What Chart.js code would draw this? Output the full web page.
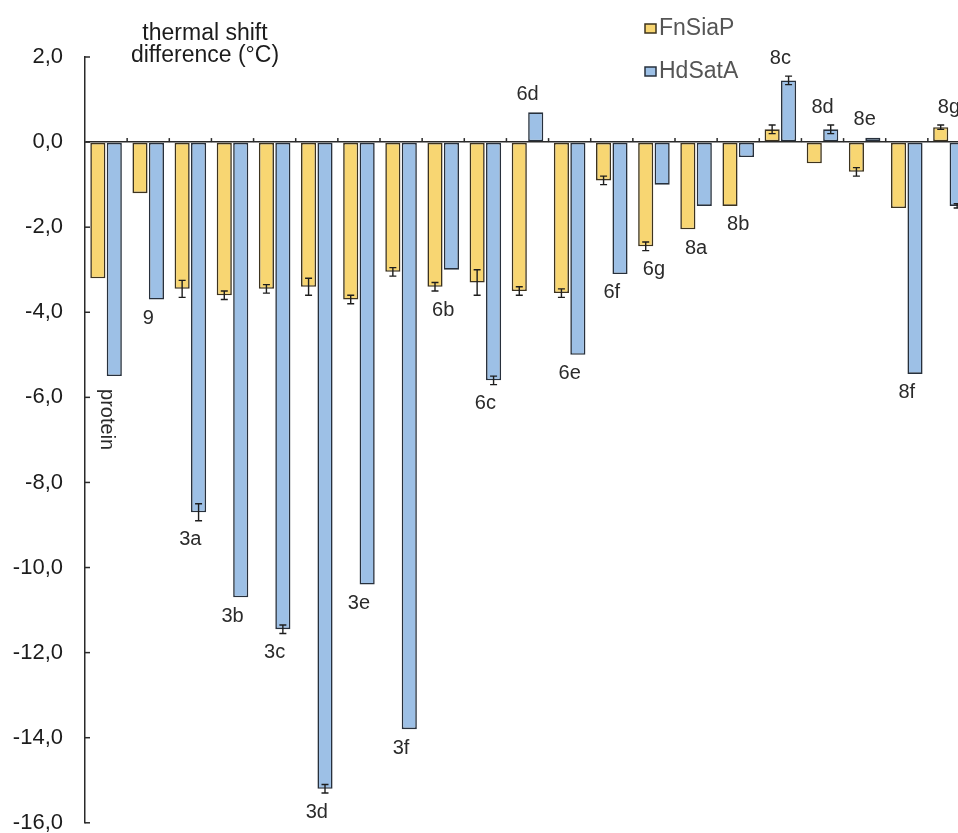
<!DOCTYPE html>
<html>
<head>
<meta charset="utf-8">
<title>Thermal shift difference</title>
<script src="https://cdn.jsdelivr.net/npm/chart.js@4/dist/chart.umd.min.js"></script>
<style>
  html, body { margin: 0; padding: 0; background: #ffffff; overflow: hidden; }
  #chart { position: absolute; left: 0; top: 0; }
</style>
</head>
<body>
<canvas id="chart" width="986" height="858"></canvas>
<script>
// Compounds tested (x categories)
const categories = ['protein', '9', '3a', '3b', '3c', '3d', '3e', '3f', '6b', '6c', '6d',
                    '6e', '6f', '6g', '8a', '8b', '8c', '8d', '8e', '8f', '8g'];

// Thermal shift difference (°C) and standard deviations per protein
const fnSiaP    = [-3.2, -1.2, -3.45, -3.6, -3.45, -3.4, -3.7, -3.05, -3.4, -3.3, -3.5,
                   -3.55, -0.9, -2.45, -2.05, -1.5, 0.3, -0.5, -0.7, -1.55, 0.35];
const fnSiaPErr = [0, 0, 0.2, 0.1, 0.1, 0.2, 0.1, 0.1, 0.1, 0.3, 0.1,
                   0.1, 0.1, 0.1, 0, 0, 0.1, 0, 0.1, 0, 0.05];
const hdSatA    = [-5.5, -3.7, -8.7, -10.7, -11.45, -15.2, -10.4, -13.8, -3.0, -5.6, 0.7,
                   -5.0, -3.1, -1.0, -1.5, -0.35, 1.45, 0.3, 0.1, -5.45, -1.5];
const hdSatAErr = [0, 0, 0.2, 0, 0.1, 0.1, 0, 0, 0, 0.1, 0,
                   0, 0, 0, 0, 0, 0.1, 0.1, 0, 0, 0.05];

// Value axis
const yMin = -16, yMax = 2, yStep = 2;

// Heading
const titleLines = ['thermal shift', 'difference (°C)'];

const FONT = "'Liberation Sans', Arial, Helvetica, sans-serif";
const INK = '#1c1c1c';

const errors = [fnSiaPErr, hdSatAErr];

const overlay = {
  id: 'overlay',
  afterDatasetsDraw(chart) {
    const ctx = chart.ctx;
    const xs = chart.scales.x, ys = chart.scales.y;
    const area = chart.chartArea;
    const y0 = ys.getPixelForValue(0);

    ctx.save();
    // error bars
    ctx.strokeStyle = '#1e1e1e';
    ctx.lineWidth = 1.4;
    chart.data.datasets.forEach((ds, d) => {
      const meta = chart.getDatasetMeta(d);
      meta.data.forEach((bar, i) => {
        const e = errors[d][i];
        if (!e) return;
        const v = ds.data[i];
        const yt = ys.getPixelForValue(v + e);
        const yb = ys.getPixelForValue(v - e);
        ctx.beginPath();
        ctx.moveTo(bar.x, yt); ctx.lineTo(bar.x, yb);
        ctx.moveTo(bar.x - 3.5, yt); ctx.lineTo(bar.x + 3.5, yt);
        ctx.moveTo(bar.x - 3.5, yb); ctx.lineTo(bar.x + 3.5, yb);
        ctx.stroke();
      });
    });

    // small marks on the zero line between categories
    ctx.strokeStyle = '#2a2a2a';
    ctx.lineWidth = 1.5;
    for (let i = 1; i < categories.length; i++) {
      const xb = (xs.getPixelForValue(i - 1) + xs.getPixelForValue(i)) / 2;
      ctx.beginPath();
      ctx.moveTo(xb, y0); ctx.lineTo(xb, y0 - 4);
      ctx.stroke();
    }

    // inward tick marks on the value axis
    ys.ticks.forEach(t => {
      const py = ys.getPixelForValue(t.value);
      ctx.beginPath();
      ctx.moveTo(area.left, py); ctx.lineTo(area.left + 5, py);
      ctx.stroke();
    });

    // compound labels next to each bar pair
    ctx.fillStyle = '#2b2b2b';
    ctx.font = '20px ' + FONT;
    ctx.textAlign = 'center';
    ctx.textBaseline = 'middle';
    categories.forEach((name, i) => {
      const cx = xs.getPixelForValue(i);
      const hi = Math.max(fnSiaP[i] + fnSiaPErr[i], hdSatA[i] + hdSatAErr[i]);
      const lo = Math.min(fnSiaP[i] - fnSiaPErr[i], hdSatA[i] - hdSatAErr[i]);
      if (i === 0) {
        // the protein label runs downward
        ctx.save();
        ctx.translate(cx, ys.getPixelForValue(lo) + 13);
        ctx.rotate(Math.PI / 2);
        ctx.textAlign = 'left';
        ctx.fillText(name, 0, 0);
        ctx.restore();
      } else if (hi > 0) {
        ctx.fillText(name, cx, ys.getPixelForValue(hi) - 18);
      } else {
        ctx.fillText(name, cx, ys.getPixelForValue(lo) + 19);
      }
    });

    // heading
    ctx.fillStyle = INK;
    ctx.font = '23px ' + FONT;
    ctx.textBaseline = 'alphabetic';
    ctx.textAlign = 'center';
    ctx.fillText(titleLines[0], 205, 40);
    ctx.fillText(titleLines[1], 205, 62);

    // legend
    ctx.textAlign = 'left';
    ctx.textBaseline = 'middle';
    chart.data.datasets.forEach((ds, d) => {
      const ly = 28 + d * 43;
      ctx.fillStyle = ds.backgroundColor;
      ctx.fillRect(645, ly - 4, 11, 9);
      ctx.strokeStyle = ds.borderColor;
      ctx.lineWidth = 1.5;
      ctx.strokeRect(645, ly - 4, 11, 9);
      ctx.fillStyle = '#555555';
      ctx.fillText(ds.label, 659, ly + 1);
    });
    ctx.restore();
  }
};

new Chart(document.getElementById('chart'), {
  type: 'bar',
  data: {
    labels: categories,
    datasets: [
      {
        label: 'FnSiaP',
        data: fnSiaP,
        backgroundColor: '#F8D672',
        borderColor: '#3d331e',
        borderWidth: 1.6,
        borderSkipped: false
      },
      {
        label: 'HdSatA',
        data: hdSatA,
        backgroundColor: '#9DC0E6',
        borderColor: '#27303c',
        borderWidth: 1.6,
        borderSkipped: false
      }
    ]
  },
  options: {
    responsive: false,
    animation: false,
    events: [],
    layout: { padding: { left: 0, right: 16, top: 57, bottom: 12 } },
    datasets: {
      bar: { categoryPercentage: 0.78, barPercentage: 0.92 }
    },
    plugins: {
      legend: { display: false },
      title: { display: false },
      tooltip: { enabled: false }
    },
    scales: {
      x: { display: false },
      y: {
        min: yMin,
        max: yMax,
        afterFit(scale) { scale.width = 85; },
        ticks: {
          stepSize: yStep,
          padding: 22,
          color: INK,
          font: { family: FONT, size: 22 },
          callback: v => v.toFixed(1).replace('.', ',')
        },
        grid: {
          drawTicks: false,
          color: c => (c.tick && c.tick.value === 0) ? '#2a2a2a' : 'rgba(0,0,0,0)',
          lineWidth: 1.5
        },
        border: { display: true, color: '#2a2a2a', width: 1.5 }
      }
    }
  },
  plugins: [overlay]
});
</script>
</body>
</html>
